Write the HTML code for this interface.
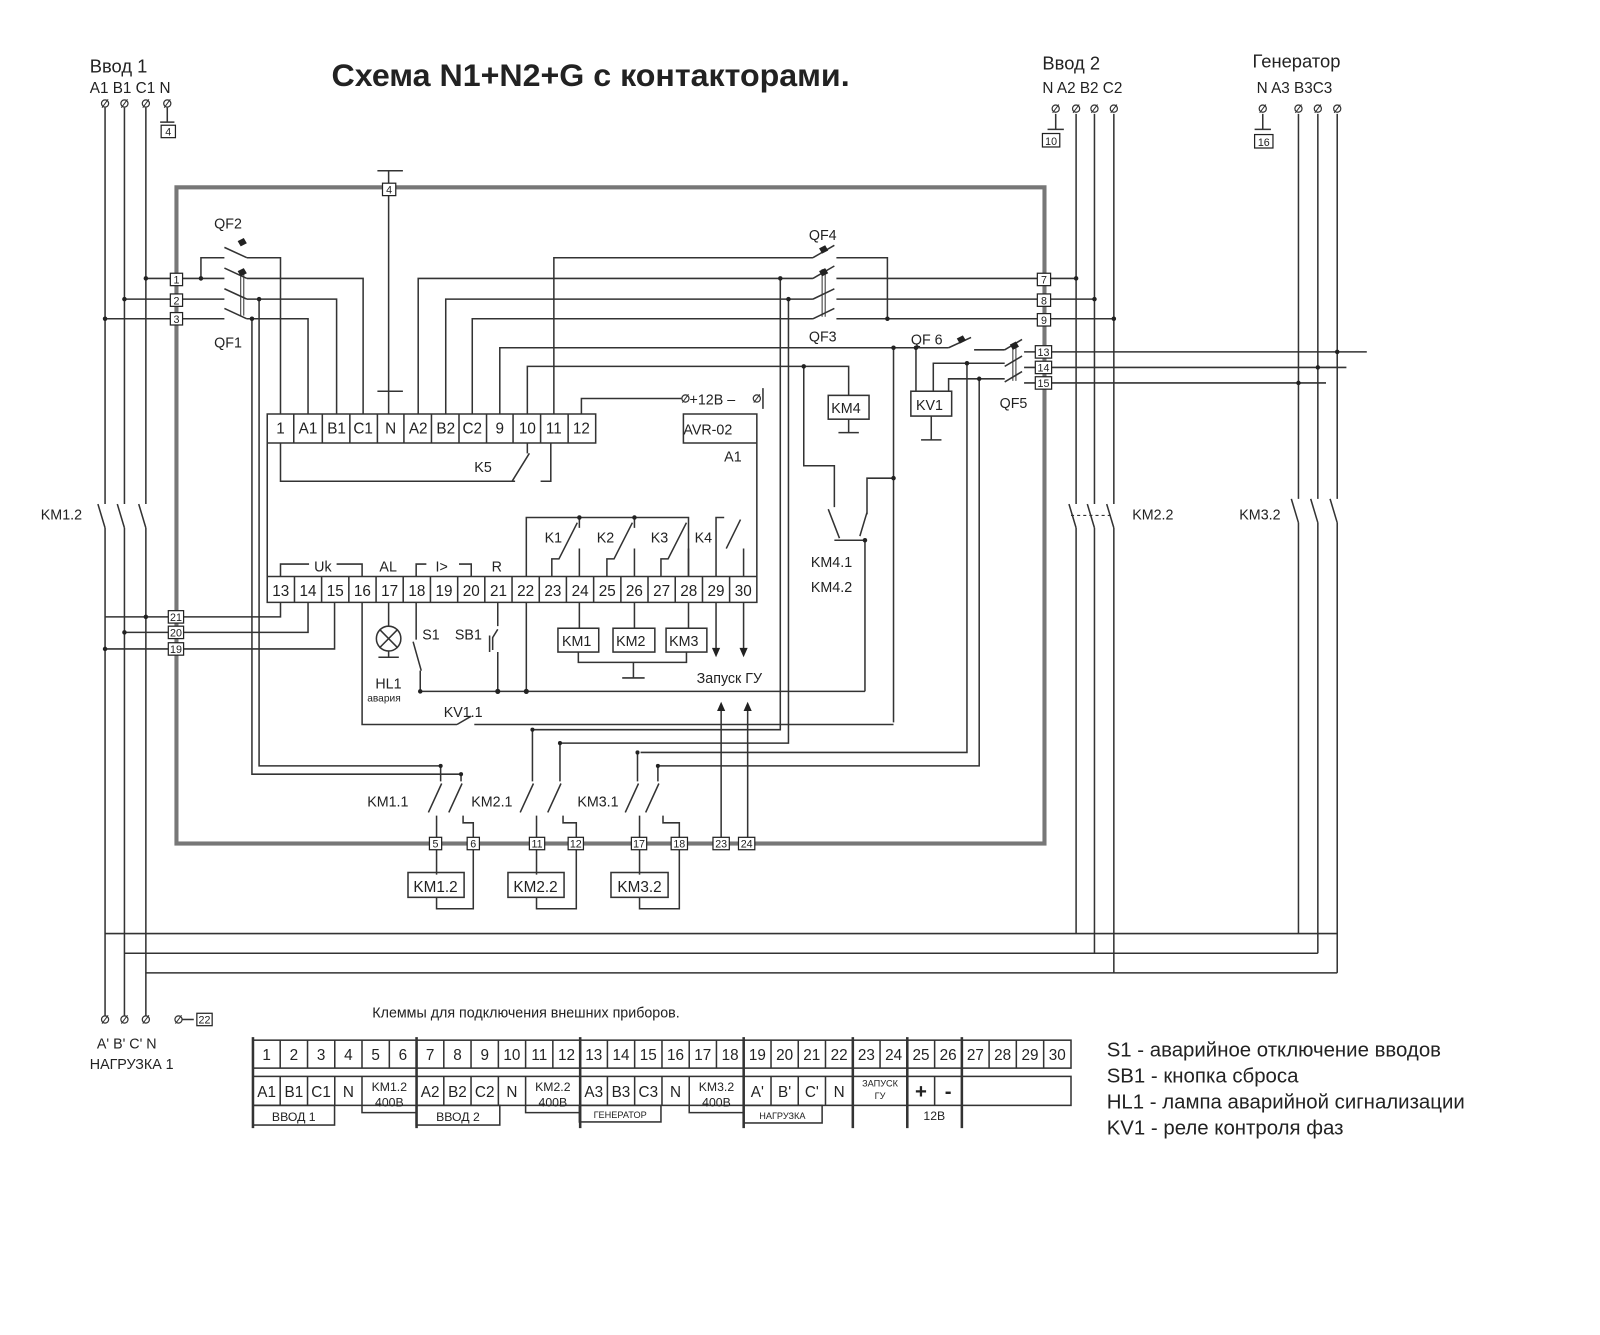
<!DOCTYPE html>
<html><head><meta charset="utf-8"><style>
html,body{margin:0;padding:0;background:#fff;}
svg{display:block;}
text{font-family:"Liberation Sans",sans-serif;fill:#222;}
</style></head><body>
<svg width="1600" height="1335" viewBox="0 0 1600 1335" xmlns="http://www.w3.org/2000/svg">
<rect width="1600" height="1335" fill="#fff"/>
<g transform="scale(1.02 1.035)">
<g fill="none" stroke="#333" stroke-width="1.5">
<rect x="173" y="181" width="851" height="634" stroke="#777" stroke-width="4"/>
<path d="M103 104V487M122 104V487M143 104V487M103 510V985M122 510V985M143 510V985"/>
<path d="M96 487L103 510M115 487L122 510M136 487L143 510"/>
<path d="M164 104V118M157 118H171"/>
<path d="M103 902H1311M122 921H1292M143 940H1311"/>
<path d="M1035 110V125M1027 125H1043"/>
<path d="M1055 110V487M1073 110V487M1092 110V487M1055 510V902M1073 510V921M1092 510V940"/>
<path d="M1048 487L1055 510M1066 487L1073 510M1085 487L1092 510"/>
<path d="M1050 498H1090" stroke-dasharray="3 3" stroke-width="1"/>
<path d="M1238 110V125M1230 125H1246"/>
<path d="M1273 110V482M1292 110V482M1311 110V482M1273 505V902M1292 505V921M1311 505V940"/>
<path d="M1266 482L1273 505M1285 482L1292 505M1304 482L1311 505"/>
<path d="M370 165H395M381 165V378M370 378H395M381 378V400"/>
<path d="M143 269H220M122 289H220M103 308H220"/>
<path d="M197 269V249H220"/>
<path d="M220 239L242 249M220 259L242 269M220 279L242 289M220 298L242 308"/>
<path d="M236 262V305M239 262V305" stroke-width="1"/>
<path d="M242 249H275V400M242 269H356V400M242 289H330V400M242 308H302V400"/>
<path d="M254 289V740H432M247 308V748H452"/>
<path d="M410 400V269H797M437 400V289H797M463 400V308H797"/>
<path d="M543 400V249H797"/>
<path d="M797 249L818 237M797 269L818 257M797 289L818 279M797 308L818 298"/>
<path d="M806 260V306M809 260V306" stroke-width="1"/>
<path d="M820 249H870V308M820 269H1055M820 289H1073M820 308H1092"/>
<path d="M765 269V705H522M773 289V718H549"/>
<path d="M490 400V336H930M517 400V354H832V382"/>
<path d="M570 400V385H668M748 375V395"/>
<path d="M822 418H842M832 405V418"/>
<path d="M930 336L952 326M955 338H985M985 338L1002 328M985 354L1002 344M985 369L1002 359"/>
<path d="M993 332V368M996 332V368" stroke-width="1"/>
<path d="M1004 340H1340M1004 355H1320M1004 370H1300"/>
<path d="M898 336V378M913 402V425M903 425H923"/>
<path d="M915 378V351H985M930 378V366H985"/>
<path d="M948 351V727H628M960 366V740H645"/>
<path d="M788 354V450H818V490M812 492L823 520M818 522H848V668M876 336V698M876 462H850V497M850 495L843 518"/>
<path d="M262 400H584V428H262ZM262 428V582H742V400H670V428H742"/>
<path d="M288 400V428M316 400V428M343 400V428M370 400V428M396 400V428M423 400V428M450 400V428M477 400V428M503 400V428M530 400V428M557 400V428"/>
<path d="M262 557H742M288.7 557V582M315.3 557V582M342 557V582M368.7 557V582M395.3 557V582M422 557V582M448.7 557V582M475.3 557V582M502 557V582M528.7 557V582M555.3 557V582M582 557V582M608.7 557V582M635.3 557V582M662 557V582M688.7 557V582M715.3 557V582"/>
<path d="M275 428V465H505M502 465L519 438M517 428V438M530 465H540V428"/>
<path d="M275 557V545H303M330 545H355V557M408 557V545H418M450 545H462V557"/>
<path d="M516 557V500H675V557"/>
<path d="M541 557V540H548L566 505M568 500V510M568 557V530"/>
<path d="M595 557V540H602L620 505M622 500V510M622 557V530"/>
<path d="M648 557V540H655L673 505M675 530V557"/>
<path d="M702 557V500H710M712 530L726 502M729 557V530"/>
<path d="M275 582V596H103M302 582V611H122M328 582V627H103"/>
<path d="M355 582V700H448M448 700L462 692M465 700H876"/>
<path d="M381 582V605M381 629V635M371 635H391"/>
<circle cx="381" cy="617" r="12"/>
<path d="M372 608L390 626M390 608L372 626"/>
<path d="M408 582V618M405 620L413 648M412 648V668"/>
<path d="M488 582V605M488 608L483 616V628M480 614V630M488 630V668"/>
<path d="M516 582V668M412 668H848"/>
<path d="M568 582V607M622 582V607M675 582V607"/>
<rect x="547" y="607" width="40" height="23"/><rect x="601" y="607" width="41" height="23"/><rect x="653" y="607" width="40" height="23"/>
<path d="M567 630V640H673V630M621 640V655M610 655H632"/>
<path d="M702 582V632M729 582V632"/>
<path d="M707 809V682M733 809V682"/>
<rect x="812" y="382" width="40" height="23"/>
<rect x="893" y="378" width="40" height="24"/>
<path d="M432 740V755M420 785L433 757M452 748V755M440 785L453 757"/>
<path d="M428 788V845M428 867V878H464V795H454V788"/>
<path d="M522 705V755M510 785L523 757M549 718V755M537 785L550 757"/>
<path d="M526 788V845M526 867V878H565V795H552V788"/>
<path d="M625 727V755M613 785L626 757M645 740V755M633 785L646 757"/>
<path d="M627 788V845M627 867V878H666V795H650V788"/>
<rect x="400" y="843" width="55" height="24"/><rect x="498" y="843" width="55" height="24"/><rect x="599" y="843" width="56" height="24"/>
<path d="M175 985H190"/>
<rect x="248" y="1005" width="802" height="27"/>
<path d="M274.7 1005V1032M301.5 1005V1032M328.2 1005V1032M354.9 1005V1032M381.7 1005V1032M435.1 1005V1032M461.8 1005V1032M488.6 1005V1032M515.3 1005V1032M542 1005V1032M595.5 1005V1032M622.2 1005V1032M649 1005V1032M675.7 1005V1032M702.4 1005V1032M755.9 1005V1032M782.6 1005V1032M809.3 1005V1032M862.8 1005V1032M916.3 1005V1032M969.7 1005V1032M996.4 1005V1032M1023.2 1005V1032"/>
<rect x="248" y="1040" width="802" height="28"/>
<path d="M274.7 1040V1068M301.5 1040V1068M328.2 1040V1068M354.9 1040V1075H408.4M435.1 1040V1068M461.8 1040V1068M488.6 1040V1068M515.3 1040V1075H568.8M595.5 1040V1068M622.2 1040V1068M649 1040V1068M675.7 1040V1075H729.1M755.9 1040V1068M782.6 1040V1068M809.3 1040V1068M916.3 1040V1068"/>
<rect x="248" y="1068" width="80" height="19"/><rect x="408" y="1068" width="82" height="19"/><rect x="568" y="1068" width="80" height="16"/><rect x="729" y="1068" width="77" height="17"/>
<path d="M248 1002V1090M408.4 1002V1090M568.8 1002V1090M729.1 1002V1090M836.1 1002V1090M889.5 1002V1090M943 1002V1090" stroke-width="2.5"/>
</g>
<g fill="#fff" stroke="#333" stroke-width="1.2">
<circle cx="103" cy="100" r="3.5"/><circle cx="122" cy="100" r="3.5"/><circle cx="143" cy="100" r="3.5"/><circle cx="164" cy="100" r="3.5"/>
<circle cx="1035" cy="105" r="3.5"/><circle cx="1055" cy="105" r="3.5"/><circle cx="1073" cy="105" r="3.5"/><circle cx="1092" cy="105" r="3.5"/>
<circle cx="1238" cy="105" r="3.5"/><circle cx="1273" cy="105" r="3.5"/><circle cx="1292" cy="105" r="3.5"/><circle cx="1311" cy="105" r="3.5"/>
<circle cx="103" cy="985" r="3.5"/><circle cx="122" cy="985" r="3.5"/><circle cx="143" cy="985" r="3.5"/><circle cx="175" cy="985" r="3.5"/>
<circle cx="672" cy="385" r="3.5"/><circle cx="742" cy="385" r="3.5"/>
</g>
<g stroke="#333" stroke-width="1">
<path d="M100 104l6-8M119 104l6-8M140 104l6-8M161 104l6-8M1032 109l6-8M1052 109l6-8M1070 109l6-8M1089 109l6-8M1235 109l6-8M1270 109l6-8M1289 109l6-8M1308 109l6-8M100 989l6-8M119 989l6-8M140 989l6-8M172 989l6-8M669 389l6-8M739 389l6-8"/>
</g>
<g fill="#222">
<circle cx="143" cy="269" r="2.2"/><circle cx="122" cy="289" r="2.2"/><circle cx="103" cy="308" r="2.2"/><circle cx="197" cy="269" r="2.2"/>
<circle cx="254" cy="289" r="2.2"/><circle cx="247" cy="308" r="2.2"/><circle cx="765" cy="269" r="2.2"/><circle cx="773" cy="289" r="2.2"/>
<circle cx="870" cy="308" r="2.2"/><circle cx="1055" cy="269" r="2.2"/><circle cx="1073" cy="289" r="2.2"/><circle cx="1092" cy="308" r="2.2"/>
<circle cx="876" cy="336" r="2.2"/><circle cx="898" cy="336" r="2.2"/><circle cx="948" cy="351" r="2.2"/><circle cx="960" cy="366" r="2.2"/>
<circle cx="1311" cy="340" r="2.2"/><circle cx="1292" cy="355" r="2.2"/><circle cx="1273" cy="370" r="2.2"/><circle cx="788" cy="354" r="2.2"/>
<circle cx="876" cy="462" r="2.2"/><circle cx="848" cy="522" r="2.2"/><circle cx="568" cy="500" r="2.2"/><circle cx="622" cy="500" r="2.2"/>
<circle cx="143" cy="596" r="2.2"/><circle cx="122" cy="611" r="2.2"/><circle cx="103" cy="627" r="2.2"/>
<circle cx="412" cy="668" r="2.2"/><circle cx="488" cy="668" r="2.5"/><circle cx="516" cy="668" r="2.5"/>
<circle cx="432" cy="740" r="2"/><circle cx="452" cy="748" r="2"/><circle cx="522" cy="705" r="2"/><circle cx="549" cy="718" r="2"/><circle cx="625" cy="727" r="2"/><circle cx="645" cy="740" r="2"/>
<path d="M233 233l6-3 3 5-6 3zM233 262l6-3 3 5-6 3zM803 240l6-3 3 5-6 3zM803 262l6-3 3 5-6 3zM938 327l6-3 3 5-6 3zM990 333l6-3 3 5-6 3z"/>
<path d="M702 635l-4-9h8zM729 635l-4-9h8zM707 678l-4 9h8zM733 678l-4 9h8z"/>
</g>
<g fill="#fff" stroke="#222" stroke-width="1.2">
<rect x="158" y="121" width="14" height="12"/><rect x="1022" y="129" width="17" height="13"/><rect x="1230" y="130" width="18" height="13"/>
<rect x="375" y="177" width="13" height="12"/>
<rect x="167" y="264" width="12" height="12"/><rect x="167" y="284" width="12" height="12"/><rect x="167" y="302" width="12" height="12"/>
<rect x="1017" y="264" width="13" height="12"/><rect x="1017" y="284" width="13" height="12"/><rect x="1017" y="303" width="13" height="12"/>
<rect x="1015" y="334" width="16" height="12"/><rect x="1015" y="349" width="16" height="12"/><rect x="1015" y="364" width="16" height="12"/>
<rect x="165" y="590" width="15" height="12"/><rect x="165" y="605" width="15" height="12"/><rect x="165" y="621" width="15" height="12"/>
<rect x="421" y="809" width="12" height="12"/><rect x="458" y="809" width="12" height="12"/><rect x="519" y="809" width="15" height="12"/><rect x="557" y="809" width="15" height="12"/>
<rect x="619" y="809" width="15" height="12"/><rect x="658" y="809" width="16" height="12"/><rect x="699" y="809" width="16" height="12"/><rect x="724" y="809" width="16" height="12"/>
<rect x="193" y="979" width="15" height="12"/>
</g>
<g font-size="10.5" text-anchor="middle">
<text x="165" y="131">4</text><text x="1030.5" y="140">10</text><text x="1239" y="141">16</text><text x="381.5" y="187">4</text>
<text x="173" y="274">1</text><text x="173" y="294">2</text><text x="173" y="312">3</text>
<text x="1023.5" y="274">7</text><text x="1023.5" y="294">8</text><text x="1023.5" y="313">9</text>
<text x="1023" y="344">13</text><text x="1023" y="359">14</text><text x="1023" y="374">15</text>
<text x="172.5" y="600">21</text><text x="172.5" y="615">20</text><text x="172.5" y="631">19</text>
<text x="427" y="819">5</text><text x="464" y="819">6</text><text x="526.5" y="819">11</text><text x="564.5" y="819">12</text>
<text x="626.5" y="819">17</text><text x="666" y="819">18</text><text x="707" y="819">23</text><text x="732" y="819">24</text>
<text x="200.5" y="989">22</text>
</g>
<text x="325" y="83" font-size="30" font-weight="bold" textLength="508" lengthAdjust="spacingAndGlyphs">Схема N1+N2+G с контакторами.</text>
<g font-size="18">
<text x="88" y="70">Ввод 1</text><text x="1022" y="67">Ввод 2</text><text x="1228" y="65">Генератор</text>
</g>
<g font-size="15">
<text x="88" y="90">A1 B1 C1 N</text><text x="1022" y="90">N  A2 B2 C2</text><text x="1232" y="90">N  A3 B3C3</text>
</g>
<g font-size="14">
<text x="40" y="502">KM1.2</text><text x="1110" y="502">KM2.2</text><text x="1215" y="502">KM3.2</text>
<text x="210" y="221">QF2</text><text x="210" y="336">QF1</text><text x="793" y="232">QF4</text><text x="793" y="330">QF3</text>
<text x="893" y="333">QF 6</text><text x="980" y="394">QF5</text>
<text x="815" y="399">KM4</text><text x="898" y="396">KV1</text>
<text x="795" y="548">KM4.1</text><text x="795" y="572">KM4.2</text>
<text x="676" y="391">+12В –</text>
<text x="670" y="420">AVR-02</text><text x="710" y="446">A1</text><text x="465" y="456">K5</text>
<text x="534" y="524">K1</text><text x="585" y="524">K2</text><text x="638" y="524">K3</text><text x="681" y="524">K4</text>
<text x="308" y="552">Uk</text><text x="372" y="552">AL</text><text x="427" y="552">I&gt;</text><text x="482" y="552">R</text>
<text x="414" y="618">S1</text><text x="446" y="618">SB1</text><text x="368" y="665">HL1</text>
<text x="683" y="660">Запуск ГУ</text><text x="435" y="693">KV1.1</text>
<text x="551" y="624">KM1</text><text x="604" y="624">KM2</text><text x="656" y="624">KM3</text>
<text x="360" y="779">KM1.1</text><text x="462" y="779">KM2.1</text><text x="566" y="779">KM3.1</text>
<text x="95" y="1013">A' B' C'   N</text><text x="88" y="1033">НАГРУЗКА 1</text>
<text x="365" y="983">Клеммы для подключения внешних приборов.</text>
</g>
<text x="360" y="678" font-size="10">авария</text>
<g font-size="15" text-anchor="middle">
<text x="302" y="419">A1</text><text x="330" y="419">B1</text><text x="356" y="419">C1</text><text x="383" y="419">N</text><text x="410" y="419">A2</text><text x="437" y="419">B2</text><text x="463" y="419">C2</text><text x="490" y="419">9</text><text x="517" y="419">10</text><text x="543" y="419">11</text><text x="570" y="419">12</text>
<text x="275" y="419">1</text>
<text x="275.3" y="576">13</text><text x="302" y="576">14</text><text x="328.7" y="576">15</text><text x="355.3" y="576">16</text><text x="382" y="576">17</text><text x="408.7" y="576">18</text><text x="435.3" y="576">19</text><text x="462" y="576">20</text><text x="488.7" y="576">21</text><text x="515.3" y="576">22</text><text x="542" y="576">23</text><text x="568.7" y="576">24</text><text x="595.3" y="576">25</text><text x="622" y="576">26</text><text x="648.7" y="576">27</text><text x="675.3" y="576">28</text><text x="702" y="576">29</text><text x="728.7" y="576">30</text>
<text x="427" y="862">KM1.2</text><text x="525" y="862">KM2.2</text><text x="627" y="862">KM3.2</text>
</g>
<g font-size="15" text-anchor="middle">
<text x="261.4" y="1024">1</text><text x="288.1" y="1024">2</text><text x="314.8" y="1024">3</text><text x="341.6" y="1024">4</text><text x="368.3" y="1024">5</text><text x="395" y="1024">6</text><text x="421.7" y="1024">7</text><text x="448.5" y="1024">8</text><text x="475.2" y="1024">9</text><text x="501.9" y="1024">10</text><text x="528.7" y="1024">11</text><text x="555.4" y="1024">12</text><text x="582.1" y="1024">13</text><text x="608.8" y="1024">14</text><text x="635.6" y="1024">15</text><text x="662.3" y="1024">16</text><text x="689" y="1024">17</text><text x="715.8" y="1024">18</text><text x="742.5" y="1024">19</text><text x="769.2" y="1024">20</text><text x="795.9" y="1024">21</text><text x="822.7" y="1024">22</text><text x="849.4" y="1024">23</text><text x="876.1" y="1024">24</text><text x="902.9" y="1024">25</text><text x="929.6" y="1024">26</text><text x="956.3" y="1024">27</text><text x="983" y="1024">28</text><text x="1009.8" y="1024">29</text><text x="1036.5" y="1024">30</text>
<text x="261.4" y="1060">A1</text><text x="288.1" y="1060">B1</text><text x="314.8" y="1060">C1</text><text x="341.6" y="1060">N</text>
<text x="421.7" y="1060">A2</text><text x="448.5" y="1060">B2</text><text x="475.2" y="1060">C2</text><text x="501.9" y="1060">N</text>
<text x="582.1" y="1060">A3</text><text x="608.8" y="1060">B3</text><text x="635.6" y="1060">C3</text><text x="662.3" y="1060">N</text>
<text x="742.5" y="1060">A'</text><text x="769.2" y="1060">B'</text><text x="795.9" y="1060">C'</text><text x="822.7" y="1060">N</text>
<text x="902.9" y="1061" font-size="20" font-weight="bold">+</text><text x="929.6" y="1061" font-size="20" font-weight="bold">-</text>
</g>
<g font-size="12" text-anchor="middle">
<text x="381.7" y="1054">KM1.2</text><text x="381.7" y="1069">400В</text>
<text x="542" y="1054">KM2.2</text><text x="542" y="1069">400В</text>
<text x="702.4" y="1054">KM3.2</text><text x="702.4" y="1069">400В</text>
<text x="288" y="1083">ВВОД 1</text><text x="449" y="1083">ВВОД 2</text><text x="916" y="1082">12В</text>
</g>
<g font-size="9" text-anchor="middle">
<text x="608" y="1080">ГЕНЕРАТОР</text><text x="767" y="1081">НАГРУЗКА</text>
<text x="862.8" y="1050">ЗАПУСК</text><text x="862.8" y="1062">ГУ</text>
</g>
<g font-size="20">
<text x="1085" y="1021">S1  - аварийное отключение вводов</text>
<text x="1085" y="1046">SB1 - кнопка сброса</text>
<text x="1085" y="1071">HL1  - лампа аварийной сигнализации</text>
<text x="1085" y="1096">KV1 - реле контроля фаз</text>
</g>
</g>
</svg>
</body></html>
